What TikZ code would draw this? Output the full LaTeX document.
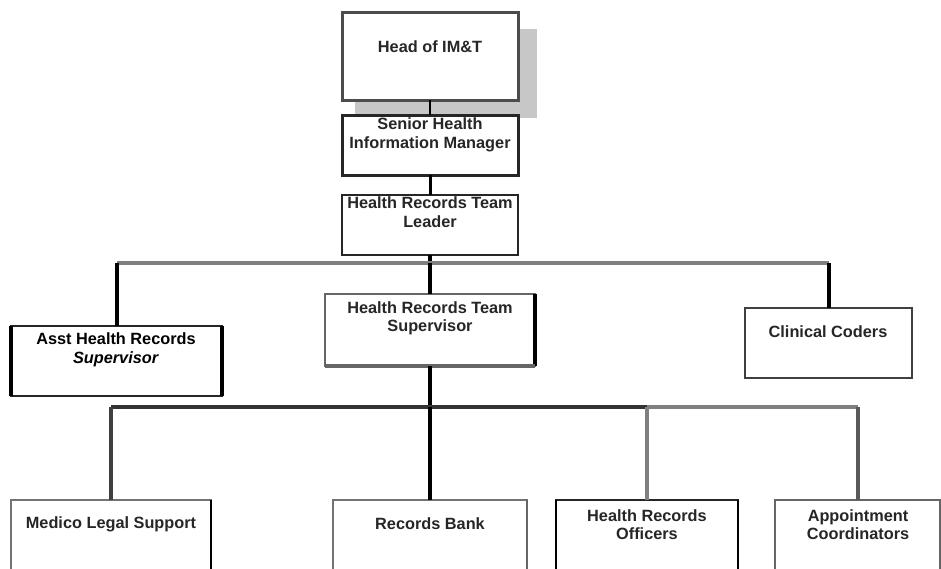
\documentclass[tikz,border=0pt]{standalone}
\usepackage{fontspec}
\setmainfont{Liberation Sans}
\usetikzlibrary{calc}
\begin{document}
\begin{tikzpicture}[x=1pt,y=-1pt,
  box/.style={draw=black!85,fill=white,line width=1.6pt,inner sep=0pt,outer sep=0pt,anchor=north west},
  heavybox/.style={box,line width=3pt},
  lbl/.style={inner sep=0pt,align=center,font=\fontsize{16.3}{19}\selectfont\bfseries,text=black!85},
  lbltwo/.style={lbl,font=\fontsize{16.3}{18}\selectfont\bfseries},
  thinlink/.style={line width=1.5pt,black},
  midlink/.style={line width=3pt,black},
  vlink/.style={line width=4pt,black},
  graybar/.style={line width=4pt,black!50},
  darkbar/.style={line width=4pt,black!80},
  edge/.style={line width=3.5pt,black}]
\useasboundingbox (0,0) rectangle (941,568);
\clip (0,0) rectangle (941,568);
% shadow of top box
\node[fill=black!22,inner sep=0pt,outer sep=0pt,anchor=north west,minimum width=182pt,minimum height=89pt] (headshadow) at (355,29) {};
% boxes
\node[heavybox,draw=black!70,minimum width=176pt,minimum height=88pt] (head) at (342,12) {};
\node[heavybox,minimum width=176pt,minimum height=60pt] (senior) at (342,115) {};
\node[box,minimum width=176pt,minimum height=60pt] (leader) at (342,195) {};
\node[box,line width=2pt,minimum width=211pt,minimum height=70pt] (asst) at (11,326) {};
\node[box,draw=black!60,minimum width=210pt,minimum height=72pt] (sup) at (325,294) {};
\node[box,line width=2pt,draw=black!75,minimum width=167pt,minimum height=70pt] (coders) at (745,308) {};
\node[box,draw=black!55,minimum width=200pt,minimum height=100pt] (medico) at (11,500) {};
\node[box,draw=black!55,minimum width=194pt,minimum height=100pt] (bank) at (333,500) {};
\node[box,minimum width=182pt,minimum height=100pt] (hro) at (556,500) {};
\node[box,draw=black!60,minimum width=165pt,minimum height=100pt] (appt) at (775,500) {};
% heavier edges
\draw[edge] (asst.north west) -- (asst.south west);
\draw[edge] (asst.north east) -- (asst.south east);
\draw[edge] (sup.north east) -- (sup.south east);
\draw[edge,black!60] (sup.south west) -- (sup.south east);
\draw[edge,line width=2.5pt] (medico.north east) -- (medico.south east);
\draw[edge,line width=2.5pt,black!60] (bank.north east) -- (bank.south east);
\draw[edge,line width=2.5pt] (hro.north west) -- (hro.south west);
\draw[edge,line width=2.5pt] (hro.north east) -- (hro.south east);
% junctions
\coordinate (j1) at (430,263);
\coordinate (j2) at (430,407);
% connectors
\draw[thinlink] (head.south) -- (senior.north);
\draw[midlink] (senior.south) -- (leader.north);
\draw[vlink] (leader.south) -- (j1);
\draw[graybar] (asst.north |- j1) -- (coders.north |- j1);
\draw[vlink] (asst.north) -- (asst.north |- j1);
\draw[vlink] (j1) -- (sup.north);
\draw[vlink] (coders.north) -- (coders.north |- j1);
\draw[vlink] (sup.south) -- (j2);
\draw[darkbar] (medico.north |- j2) -- (hro.north |- j2);
\draw[graybar] (hro.north |- j2) -- (appt.north |- j2);
\draw[vlink,black!75] (medico.north) -- (medico.north |- j2);
\draw[vlink] (j2) -- (bank.north);
\draw[vlink,black!50] (hro.north) -- (hro.north |- j2);
\draw[vlink,black!65] (appt.north) -- (appt.north |- j2);
% labels
\node[lbl] (headT) at (430,47) {Head of IM\&T};
\node[lbl] (seniorT) at (430,135) {Senior Health\\Information Manager};
\node[lbl] (leaderT) at (430,212.5) {Health Records Team\\Leader};
\node[lbl,text=black] (asstT) at (116,350) {Asst Health Records\\\textit{Supervisor}};
\node[lbltwo] (supT) at (430,318) {Health Records Team\\Supervisor};
\node[lbl] (codersT) at (828,332) {Clinical Coders};
\node[lbl] (medicoT) at (111,524) {Medico Legal Support};
\node[lbl] (bankT) at (430,524) {Records Bank};
\node[lbltwo] (hroT) at (647,525) {Health Records\\Officers};
\node[lbltwo] (apptT) at (858,525) {Appointment\\Coordinators};
\end{tikzpicture}
\end{document}
